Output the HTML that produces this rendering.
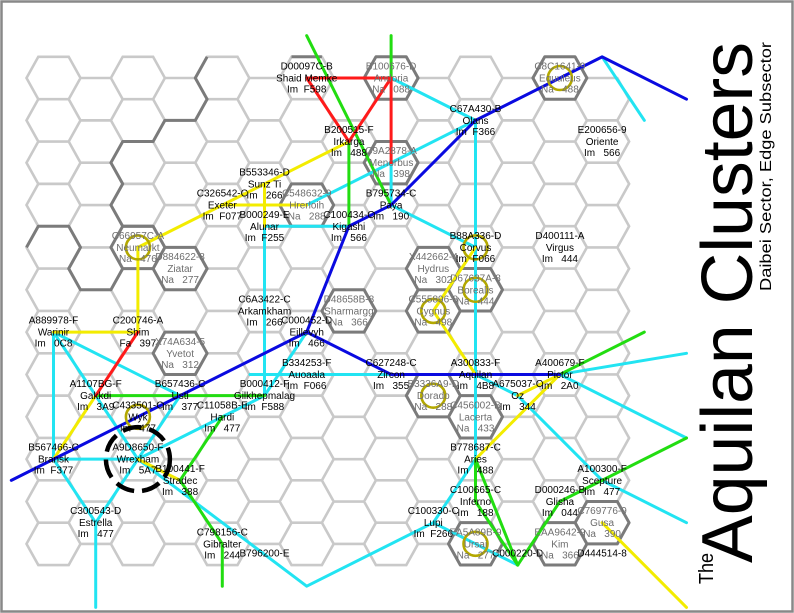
<!DOCTYPE html>
<html><head><meta charset="utf-8">
<style>
html,body{margin:0;padding:0;background:#fff;}
svg{display:block;}
text{font-family:"Liberation Sans",Arial,sans-serif;font-size:10px;white-space:pre;}
.w text{text-anchor:middle;fill:#000;}
.g text{text-anchor:middle;fill:#6e6e6e;}
</style></head>
<body>
<svg id="s" width="794" height="613" viewBox="0 0 794 613" xmlns="http://www.w3.org/2000/svg">
<rect x="0" y="0" width="794" height="613" fill="#fff"/>
<g id="grid" fill="none" stroke="#c9c9c9" stroke-width="2.6"></g>
<g id="dark" fill="none" stroke="#7b7b7b" stroke-width="3" stroke-linejoin="round">
<polyline points="207.1,56.8 195.3,78 207.1,99.2 195.3,120.35 164.9,120.35 153.1,141.55 122.7,141.55 110.9,162.7 122.7,183.9 110.9,205.05 122.7,226.25 153.1,226.25"/>
<polyline points="26.5,247.4 38.3,226.2 68.7,226.2 80.5,247.4 68.7,268.6 80.5,289.8 110.9,289.8 122.7,268.6"/>
<polyline points="291.5,56.8 321.9,56.8"/>
</g>
<g fill="none" stroke-width="3" stroke-linecap="round" stroke-linejoin="round">
<!-- cyan -->
<g stroke="#22e4f2">
<polyline points="391.1,78 475.5,120.35"/>
<polyline points="602.1,56.85 644.3,120.35"/>
<polyline points="475.5,120.35 306.7,205.05"/>
<polyline points="475.5,120.35 475.5,459.15"/>
<polyline points="391.1,162.7 391.1,205.05 475.5,247.4"/>
<polyline points="264.5,226.25 348.9,226.25"/>
<polyline points="264.5,226.25 264.5,395.65"/>
<polyline points="306.7,332.1 264.5,395.65"/>
<polyline points="250,374.45 391.1,374.45"/>
<polyline points="264.5,395.65 137.9,459.15"/>
<polyline points="180.1,395.65 137.9,459.15"/>
<polyline points="53.5,332.1 180.1,395.65"/>
<polyline points="53.5,332.1 53.5,459.15 137.9,459.15"/>
<polyline points="53.5,332.1 137.9,459.15"/>
<polyline points="53.5,459.15 95.7,522.7 95.7,607.4"/>
<polyline points="137.9,459.15 95.7,522.7"/>
<polyline points="137.9,459.15 306.7,586.2 433.3,522.7"/>
<polyline points="475.5,459.15 433.3,522.7 517.7,565.05"/>
<polyline points="475.5,374.45 517.7,395.65 602.1,480.35 686.5,522.7"/>
<polyline points="559.9,374.45 686.5,353.3"/>
<polyline points="559.9,374.45 686.5,438"/>
</g>
<!-- yellow -->
<g stroke="#f3ec00">
<polyline points="137.9,247.4 348.9,141.55"/>
<polyline points="222.3,205.05 306.7,205.05"/>
<polyline points="264.5,183.9 264.5,226.25"/>
<polyline points="137.9,247.4 137.9,332.1 53.5,332.1"/>
<polyline points="95.7,395.65 53.5,459.15"/>
<polyline points="137.9,459.15 180.1,480.35"/>
<polyline points="475.5,247.4 433.3,310.95 475.5,374.45"/>
<polyline points="559.9,374.45 517.7,395.65"/>
<polyline points="559.9,374.45 475.5,459.15"/>
<polyline points="602.1,522.7 686.5,607.4"/>
</g>
<!-- green -->
<g stroke="#22dd11">
<polyline points="306.7,35.65 391.1,205.05"/>
<polyline points="391.1,35.65 391.1,78"/>
<polyline points="348.9,141.55 348.9,226.25"/>
<polyline points="95.7,395.65 264.5,395.65"/>
<polyline points="222.3,416.8 180.1,480.35 222.3,543.85 222.3,586.2"/>
<polyline points="559.9,374.45 644.3,332.1"/>
<polyline points="475.5,459.15 475.5,501.5 517.7,565.05"/>
<polyline points="475.5,459.15 517.7,565.05"/>
<polyline points="517.7,565.05 559.9,501.5 686.5,438"/>
</g>
<!-- red -->
<g stroke="#ff1a1a">
<polyline points="306.7,78 391.1,78 348.9,141.55 306.7,78"/>
<polyline points="391.1,78 391.1,162.7"/>
<polyline points="137.9,332.1 95.7,395.65"/>
</g>
<!-- blue -->
<g stroke="#0a0ae0">
<polyline points="11.3,480.35 306.7,332.1 348.9,226.25 391.1,205.05 475.5,120.35 602.1,56.85 686.5,99.2"/>
<polyline points="306.7,332.1 391.1,374.45 559.9,374.45"/>
</g>
</g>
<!-- circles -->
<g fill="none" stroke="#b3a800" stroke-width="2.6">
<circle cx="559.9" cy="78" r="12"/>
<circle cx="137.9" cy="247.4" r="12"/>
<circle cx="475.5" cy="247.4" r="12"/>
<circle cx="475.5" cy="289.75" r="12"/>
<circle cx="433.3" cy="310.95" r="12"/>
<circle cx="433.3" cy="395.65" r="12"/>
<circle cx="475.5" cy="543.85" r="12"/>
<circle cx="137.9" cy="416.8" r="12"/>
</g>
<circle cx="137.9" cy="459.15" r="32" fill="none" stroke="#000" stroke-width="4.5" stroke-dasharray="19 8"/>

<!-- worlds: Im -->
<g class="w">
<text x="306.7" y="69.5">D00097C-B</text><text x="306.7" y="81.5">Shaid Memke</text><text x="306.7" y="92.5">Im  F598</text>
<text x="475.5" y="111.85">C67A430-B</text><text x="475.5" y="123.85">Olans</text><text x="475.5" y="134.85">Im  F366</text>
<text x="602.1" y="133.05">E200656-9</text><text x="602.1" y="145.05">Oriente</text><text x="602.1" y="156.05">Im   566</text>
<text x="348.9" y="133.05">B200515-F</text><text x="348.9" y="145.05">Irkarga</text><text x="348.9" y="156.05">Im   488</text>
<text x="264.5" y="175.4">B553346-D</text><text x="264.5" y="187.4">Sunz Ti</text><text x="264.5" y="198.4">Im   266</text>
<text x="222.3" y="196.55">C326542-C</text><text x="222.3" y="208.55">Exeter</text><text x="222.3" y="219.55">Im  F077</text>
<text x="391.1" y="196.55">B795734-C</text><text x="391.1" y="208.55">Paya</text><text x="391.1" y="219.55">Im   190</text>
<text x="264.5" y="217.75">B000249-E</text><text x="264.5" y="229.75">Alunar</text><text x="264.5" y="240.75">Im  F255</text>
<text x="348.9" y="217.75">C100434-C</text><text x="348.9" y="229.75">Kigashi</text><text x="348.9" y="240.75">Im   566</text>
<text x="475.5" y="238.9">B88A336-D</text><text x="475.5" y="250.9">Corvus</text><text x="475.5" y="261.9">Im  F066</text>
<text x="559.9" y="238.9">D400111-A</text><text x="559.9" y="250.9">Virgus</text><text x="559.9" y="261.9">Im   444</text>
<text x="264.5" y="302.45">C6A3422-C</text><text x="264.5" y="314.45">Arkamkham</text><text x="264.5" y="325.45">Im   266</text>
<text x="53.5" y="323.6">A889978-F</text><text x="53.5" y="335.6">Warinir</text><text x="53.5" y="346.6">Im   0C8</text>
<text x="137.9" y="323.6">C200746-A</text><text x="137.9" y="335.6">Shim</text><text x="137.9" y="346.6">Fa   397</text>
<text x="306.7" y="323.6">C000452-D</text><text x="306.7" y="335.6">Eillevyh</text><text x="306.7" y="346.6">Im   466</text>
<text x="306.7" y="365.95">B334253-F</text><text x="306.7" y="377.95">Auoaala</text><text x="306.7" y="388.95">Im  F066</text>
<text x="391.1" y="365.95">C627248-C</text><text x="391.1" y="377.95">Zircon</text><text x="391.1" y="388.95">Im   355</text>
<text x="475.5" y="365.95">A300833-F</text><text x="475.5" y="377.95">Aquilan</text><text x="475.5" y="388.95">Im   4B8</text>
<text x="559.9" y="365.95">A400679-F</text><text x="559.9" y="377.95">Pictor</text><text x="559.9" y="388.95">Im   2A0</text>
<text x="95.7" y="387.15">A1107BG-F</text><text x="95.7" y="399.15">Gakkdi</text><text x="95.7" y="410.15">Im   3A9</text>
<text x="180.1" y="387.15">B657436-C</text><text x="180.1" y="399.15">Usti</text><text x="180.1" y="410.15">Im   377</text>
<text x="264.5" y="387.15">B000412-F</text><text x="264.5" y="399.15">Gilkhepmalag</text><text x="264.5" y="410.15">Im  F588</text>
<text x="517.7" y="387.15">A675037-C</text><text x="517.7" y="399.15">Oz</text><text x="517.7" y="410.15">Im   344</text>
<text x="137.9" y="408.3">C433501-C</text><text x="137.9" y="420.3">Wyk</text><text x="137.9" y="431.3">Im   477</text>
<text x="222.3" y="408.3">C11058B-E</text><text x="222.3" y="420.3">Hardi</text><text x="222.3" y="431.3">Im   477</text>
<text x="53.5" y="450.65">B567466-C</text><text x="53.5" y="462.65">Bransk</text><text x="53.5" y="473.65">Im  F377</text>
<text x="137.9" y="450.65">A9D8650-F</text><text x="137.9" y="462.65">Wrexham</text><text x="137.9" y="473.65">Im   5A7</text>
<text x="475.5" y="450.65">B778687-C</text><text x="475.5" y="462.65">Aries</text><text x="475.5" y="473.65">Im   488</text>
<text x="180.1" y="471.85">B100441-F</text><text x="180.1" y="483.85">Stradec</text><text x="180.1" y="494.85">Im   388</text>
<text x="602.1" y="471.85">A100300-F</text><text x="602.1" y="483.85">Scepture</text><text x="602.1" y="494.85">Im   477</text>
<text x="475.5" y="493">C100665-C</text><text x="475.5" y="505">Inferno</text><text x="475.5" y="516">Im   188</text>
<text x="559.9" y="493">D000246-B</text><text x="559.9" y="505">Glisha</text><text x="559.9" y="516">Im   044</text>
<text x="95.7" y="514.2">C300543-D</text><text x="95.7" y="526.2">Estrella</text><text x="95.7" y="537.2">Im   477</text>
<text x="433.3" y="514.2">C100330-C</text><text x="433.3" y="526.2">Lupi</text><text x="433.3" y="537.2">Im  F266</text>
<text x="222.3" y="535.35">C798156-C</text><text x="222.3" y="547.35">Gibralter</text><text x="222.3" y="558.35">Im   244</text>
<text x="264.5" y="556.55">B796200-E</text>
<text x="517.7" y="556.55">C000220-D</text>
<text x="602.1" y="556.55">D444514-8</text>
</g>
<!-- worlds: Na -->
<g class="g">
<text x="391.1" y="69.5">B100676-D</text><text x="391.1" y="81.5">Andoria</text><text x="391.1" y="92.5">Na   088</text>
<text x="559.9" y="69.5">C8C1641-9</text><text x="559.9" y="81.5">Equuleus</text><text x="559.9" y="92.5">Na   488</text>
<text x="391.1" y="154.2">C9A2878-A</text><text x="391.1" y="166.2">Menorbus</text><text x="391.1" y="177.2">Na   398</text>
<text x="306.7" y="196.55">C548632-9</text><text x="306.7" y="208.55">Hrerloih</text><text x="306.7" y="219.55">Na   288</text>
<text x="137.9" y="238.9">C66957C-A</text><text x="137.9" y="250.9">Neumarkt</text><text x="137.9" y="261.9">Na   476</text>
<text x="180.1" y="260.1">D884622-8</text><text x="180.1" y="272.1">Ziatar</text><text x="180.1" y="283.1">Na   277</text>
<text x="433.3" y="260.1">X442662-4</text><text x="433.3" y="272.1">Hydrus</text><text x="433.3" y="283.1">Na   302</text>
<text x="475.5" y="281.25">D67637A-8</text><text x="475.5" y="293.25">Borealis</text><text x="475.5" y="304.25">Na   444</text>
<text x="433.3" y="302.45">C555896-8</text><text x="433.3" y="314.45">Cygnus</text><text x="433.3" y="325.45">Na   498</text>
<text x="348.9" y="302.45">D48658B-8</text><text x="348.9" y="314.45">Sharmargg</text><text x="348.9" y="325.45">Na   366</text>
<text x="180.1" y="344.8">X74A634-5</text><text x="180.1" y="356.8">Yvetot</text><text x="180.1" y="367.8">Na   312</text>
<text x="433.3" y="387.15">B3336A9-D</text><text x="433.3" y="399.15">Dorado</text><text x="433.3" y="410.15">Na   288</text>
<text x="475.5" y="408.3">C456002-B</text><text x="475.5" y="420.3">Lacerta</text><text x="475.5" y="431.3">Na   433</text>
<text x="602.1" y="514.2">C769776-9</text><text x="602.1" y="526.2">Gusa</text><text x="602.1" y="537.2">Na   390</text>
<text x="475.5" y="535.35">EA5A89B-9</text><text x="475.5" y="547.35">Ursai</text><text x="475.5" y="558.35">Na   277</text>
<text x="559.9" y="535.35">EAA9642-9</text><text x="559.9" y="547.35">Kim</text><text x="559.9" y="558.35">Na   366</text>
</g>

<!-- title -->
<text transform="translate(752,563) rotate(-90)" style="font-size:72px" textLength="521" lengthAdjust="spacingAndGlyphs" fill="#000">Aquilan Clusters</text>
<text transform="translate(713,584) rotate(-90)" style="font-size:20px" textLength="31" lengthAdjust="spacingAndGlyphs" fill="#000">The</text>
<text transform="translate(771,291) rotate(-90)" style="font-size:16px" textLength="249" lengthAdjust="spacingAndGlyphs" fill="#000">Daibei Sector, Edge Subsector</text>

<rect x="1.5" y="1.5" width="791" height="610" fill="none" stroke="#888" stroke-width="2.5"/>
</svg>
<script>
(function(){
var a=27,b=15.2,h=21.2,NS="http://www.w3.org/2000/svg";
function X(c){return 53.5+42.2*c;}
function Y(c,r){return (c%2===0?78:99.2)+42.35*r;}
function hp(cx,cy){return "M"+(cx-a)+","+cy+"L"+(cx-b)+","+(cy-h)+"L"+(cx+b)+","+(cy-h)+"L"+(cx+a)+","+cy+"L"+(cx+b)+","+(cy+h)+"L"+(cx-b)+","+(cy+h)+"Z";}
var d="";
for(var c=0;c<14;c++){var n=(c%2===0)?12:11;for(var r=0;r<n;r++){d+=hp(X(c),Y(c,r));}}
var p=document.createElementNS(NS,"path");p.setAttribute("d",d);document.getElementById("grid").appendChild(p);
var dk=[[8,0],[12,0],[8,2],[6,3],[2,4],[3,4],[9,4],[10,5],[9,5],[7,5],[3,6],[9,7],[10,8],[10,11],[12,11],[13,10]];
var dd="";dk.forEach(function(k){dd+=hp(X(k[0]),Y(k[0],k[1]));});
var q=document.createElementNS(NS,"path");q.setAttribute("d",dd);document.getElementById("dark").appendChild(q);
})();
</script>
</body></html>
